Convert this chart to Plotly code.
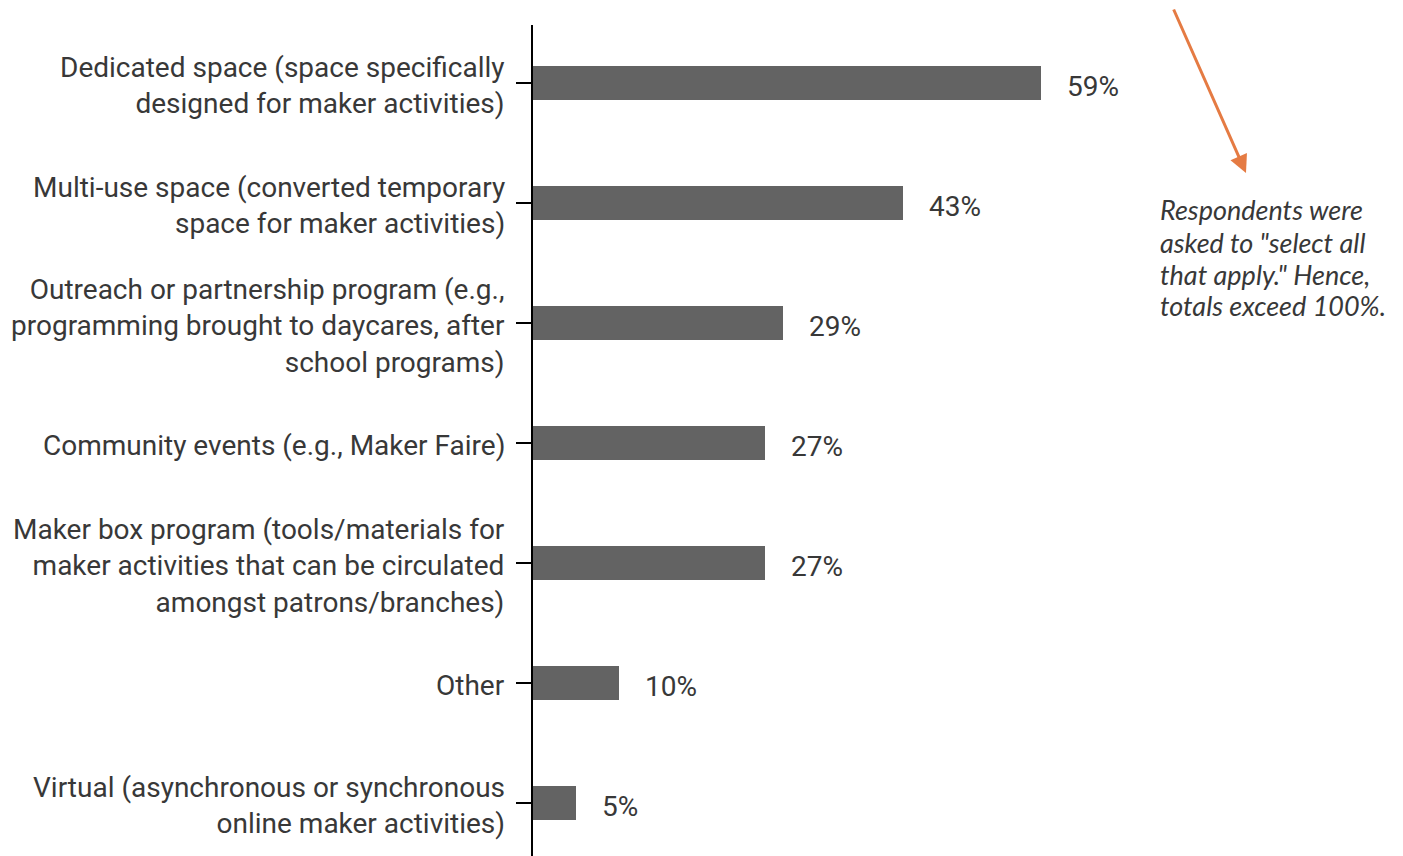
import plotly.graph_objects as go

# Delivery formats for maker programming (share of respondents)
categories = [
    "Dedicated space (space specifically<br>designed for maker activities)",
    "Multi-use space (converted temporary<br>space for maker activities)",
    "Outreach or partnership program (e.g.,<br>programming brought to daycares, after<br>school programs)",
    "Community events (e.g., Maker Faire)",
    "Maker box program (tools/materials for<br>maker activities that can be circulated<br>amongst patrons/branches)",
    "Other",
    "Virtual (asynchronous or synchronous<br>online maker activities)",
]
values = [59, 43, 29, 27, 27, 10, 5]
value_labels = ["59%", "43%", "29%", "27%", "27%", "10%", "5%"]

note_lines = [
    "Respondents were",
    "asked to \"select all",
    "that apply.\" Hence,",
    "totals exceed 100%.",
]

W, H = 1403, 856
ML, MR, MT, MB = 533, 9, 25, 0
TEXT = "#383838"

fig = go.Figure()
fig.add_trace(go.Bar(
    x=values,
    y=categories,
    orientation="h",
    marker=dict(color="#636363", line=dict(width=0)),
    width=0.285,
    hoverinfo="skip",
))

# Category labels, right-aligned against the tick marks
for cat in categories:
    fig.add_annotation(
        x=0, y=cat, xref="x", yref="y",
        text=cat, showarrow=False, align="right",
        xanchor="right", yanchor="middle", xshift=-26, yshift=-3,
        font=dict(family="Roboto", size=28, color=TEXT),
    )

# Value labels beside each bar
for cat, v, lab in zip(categories, values, value_labels):
    fig.add_annotation(
        x=v, y=cat, xref="x", yref="y",
        text=lab, showarrow=False,
        xanchor="left", yanchor="middle", xshift=24, yshift=-4,
        font=dict(family="Roboto", size=28, color=TEXT),
    )

plot_w = W - ML - MR
plot_h = H - MT - MB

def px_to_paper(px, py):
    return (px - ML) / plot_w, (H - MB - py) / plot_h

# Orange pointer arrow
hx, hy = px_to_paper(1246, 173)
fig.add_annotation(
    x=hx, y=hy, xref="paper", yref="paper",
    ax=1173 - 1246, ay=8 - 173, axref="pixel", ayref="pixel",
    text="", showarrow=True,
    arrowhead=2, arrowsize=1.2, arrowwidth=3, arrowcolor="#E57B43",
)

# Side note, one line at a time for tight leading
for i, line in enumerate(note_lines):
    nx, ny = px_to_paper(1158, 210 + 32 * i)
    fig.add_annotation(
        x=nx, y=ny, xref="paper", yref="paper",
        text=line, showarrow=False, align="left",
        xanchor="left", yanchor="middle",
        font=dict(family="Lato", size=27, color=TEXT, style="italic"),
    )

fig.update_layout(
    width=W, height=H,
    margin=dict(l=ML, r=MR, t=MT, b=MB, pad=0),
    paper_bgcolor="white", plot_bgcolor="white",
    showlegend=False,
    bargap=0,
    xaxis=dict(
        range=[0, 100], visible=False, fixedrange=True,
    ),
    yaxis=dict(
        type="category",
        range=[6.442, -0.483],
        showline=True, linecolor="black", linewidth=2,
        ticks="outside", ticklen=15, tickwidth=2, tickcolor="black",
        showticklabels=False,
        showgrid=False, zeroline=False,
    ),
)

fig.write_html("out.html")
